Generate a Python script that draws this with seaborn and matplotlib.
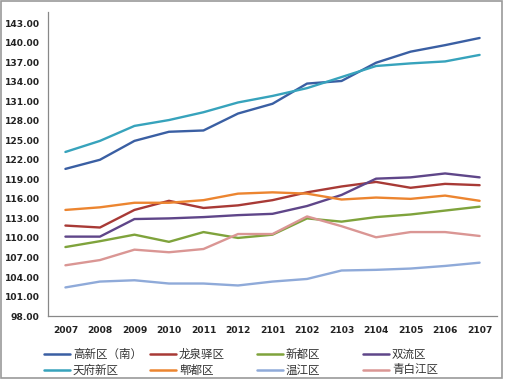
import matplotlib
matplotlib.use("Agg")
import matplotlib.pyplot as plt
import pandas as pd
import seaborn as sns
from matplotlib.lines import Line2D
from matplotlib.patches import Rectangle

# ---------------------------------------------------------------------------
# Data
# ---------------------------------------------------------------------------
periods = ["2007", "2008", "2009", "2010", "2011", "2012",
           "2101", "2102", "2103", "2104", "2105", "2106", "2107"]

gaoxin_nan = [120.6, 122.0, 124.9, 126.3, 126.5, 129.1, 130.6, 133.7, 134.1, 136.9, 138.6, 139.6, 140.7]
longquanyi = [111.9, 111.6, 114.3, 115.7, 114.6, 115.0, 115.8, 117.0, 117.9, 118.6, 117.7, 118.3, 118.1]
xindu      = [108.6, 109.5, 110.5, 109.4, 110.9, 110.0, 110.5, 113.0, 112.5, 113.2, 113.6, 114.2, 114.8]
shuangliu  = [110.2, 110.2, 112.9, 113.0, 113.2, 113.5, 113.7, 114.9, 116.6, 119.1, 119.3, 119.9, 119.3]
tianfu     = [123.2, 124.9, 127.2, 128.1, 129.3, 130.8, 131.8, 133.0, 134.7, 136.4, 136.8, 137.1, 138.1]
pidu       = [114.3, 114.7, 115.4, 115.4, 115.8, 116.8, 117.0, 116.8, 115.9, 116.2, 116.0, 116.5, 115.7]
wenjiang   = [102.4, 103.3, 103.5, 103.0, 103.0, 102.7, 103.3, 103.7, 105.0, 105.1, 105.3, 105.7, 106.2]
qingbaijiang = [105.8, 106.6, 108.2, 107.8, 108.3, 110.6, 110.6, 113.3, 111.8, 110.1, 110.9, 110.9, 110.3]

series_names = ["高新区（南）", "龙泉驿区", "新都区", "双流区",
                "天府新区", "郫都区", "温江区", "青白江区"]
series_values = [gaoxin_nan, longquanyi, xindu, shuangliu,
                 tianfu, pidu, wenjiang, qingbaijiang]
colors = ["#3A5FA3", "#A83A36", "#7FA33C", "#5F4689",
          "#37A3BC", "#EC8530", "#8FAAD9", "#DA9694"]

rows = []
for name, vals in zip(series_names, series_values):
    for i, v in enumerate(vals):
        rows.append({"period": i, "value": v, "series": name})
df = pd.DataFrame(rows)

# ---------------------------------------------------------------------------
# Plot
# ---------------------------------------------------------------------------
sns.set_style("white")
plt.rcParams["font.family"] = ["Noto Sans CJK SC", "DejaVu Sans"]

W, H = 507, 385
fig = plt.figure(figsize=(W / 100, H / 100), dpi=100)
ax = fig.add_axes([0.095, 0.179, 0.885, 0.79])

sns.lineplot(data=df, x="period", y="value", hue="series",
             hue_order=series_names, palette=colors, linewidth=1.7,
             ax=ax, legend=False)

ax.set_xlim(-0.5, len(periods) - 0.5)
ax.set_ylim(98, 144.7)
yt = [98 + 3 * k for k in range(16)]
ax.set_yticks(yt)
ax.set_yticklabels([f"{v:.2f}" for v in yt], fontsize=6.6, family="DejaVu Sans",
                   fontweight="semibold", color="#222222")
ax.set_xticks(range(len(periods)))
ax.set_xticklabels(periods, fontsize=6.6, family="DejaVu Sans",
                   fontweight="semibold", color="#222222")
ax.set_xticks([i + 0.5 for i in range(-1, len(periods))], minor=True)
ax.tick_params(axis="x", which="major", length=0, pad=7)
ax.tick_params(axis="x", which="minor", length=4, color="#888888", width=0.8)
ax.tick_params(axis="y", length=4, color="#888888", width=0.8, pad=2)
ax.set_xlabel("")
ax.set_ylabel("")

for side in ["top", "right"]:
    ax.spines[side].set_visible(False)
for side in ["left", "bottom"]:
    ax.spines[side].set_color("#888888")
    ax.spines[side].set_linewidth(0.9)

# legend: 2 rows x 4 columns below the plot (row-major order)
col_x = [44, 150, 257, 363]
row_y = [354, 370]
for k, (name, c) in enumerate(zip(series_names, colors)):
    x0 = col_x[k % 4]
    y0 = row_y[k // 4]
    fig.lines.append(Line2D([x0 / W, (x0 + 26) / W], [1 - y0 / H, 1 - y0 / H],
                            transform=fig.transFigure, color=c, lw=1.8))
    fig.text((x0 + 29) / W, 1 - y0 / H, name, fontsize=8.3, color="#333333",
             va="center", ha="left")

# outer frame
fig.patches.append(Rectangle((0.002, 0.018), 0.988, 0.98, transform=fig.transFigure,
                             fill=False, edgecolor="#9A9A9A", linewidth=1.2))

fig.savefig("out.png", dpi=100)
plt.close(fig)
